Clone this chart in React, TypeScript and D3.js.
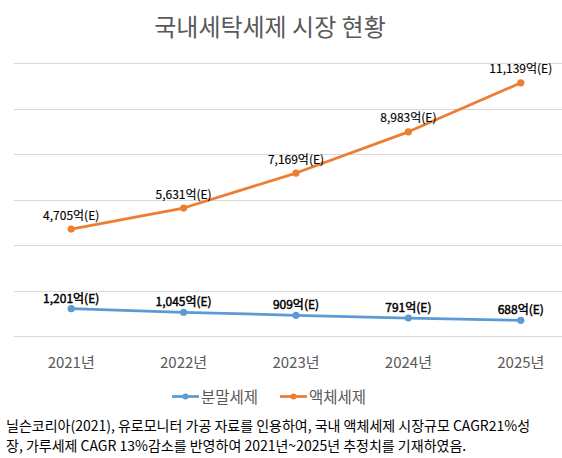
import React from "react";
import * as d3 from "d3";

// chart data
const years = ["2021년", "2022년", "2023년", "2024년", "2025년"];
const seriesNames = ["분말세제", "액체세제"];
const powderValues = [1201, 1045, 909, 791, 688];
const liquidValues = [4705, 5631, 7169, 8983, 11139];
const yMax = 12000;
const title = "국내세탁세제 시장 현황";
const noteLines = [
  "닐슨코리아(2021), 유로모니터 가공 자료를 인용하여, 국내 액체세제 시장규모 CAGR21%성",
  "장, 가루세제 CAGR 13%감소를 반영하여 2021년~2025년 추정치를 기재하였음.",
];

const FONT = "'Noto Sans CJK KR', 'Noto Sans', sans-serif";

class App extends React.Component {
  svgRef: any;
  constructor(props: any) {
    super(props);
    this.svgRef = React.createRef();
    this.draw = this.draw.bind(this);
  }

  componentDidMount() {
    this.draw();
  }

  draw() {
    var width = 562,
      height = 458;

    var svg = d3.select(this.svgRef.current);
    svg.selectAll("*").remove();
    svg.attr("width", width).attr("height", height);

    svg
      .append("rect")
      .attr("width", width)
      .attr("height", height)
      .attr("fill", "white");

    // the plot area runs past the right edge of the picture
    var x = d3.scaleBand().domain(years).range([15, 577]);
    var y = d3.scaleLinear().domain([0, yMax]).range([336, 63.3]);
    var cx = (d: string) => (x(d) as number) + x.bandwidth() / 2;

    // title
    svg
      .append("text")
      .attr("x", 270)
      .attr("y", 36)
      .attr("text-anchor", "middle")
      .style("font-family", FONT)
      .style("font-size", "24px")
      .attr("fill", "#595959")
      .text(title);

    // gridlines
    svg
      .selectAll("line.grid")
      .data(y.ticks(6))
      .enter()
      .append("line")
      .attr("class", "grid")
      .attr("x1", 14)
      .attr("x2", width)
      .attr("y1", (d: number) => Math.round(y(d)) + 0.5)
      .attr("y2", (d: number) => Math.round(y(d)) + 0.5)
      .attr("stroke", "#d9d9d9")
      .attr("stroke-width", 1);

    // year labels
    svg
      .selectAll("text.year")
      .data(years)
      .enter()
      .append("text")
      .attr("class", "year")
      .attr("x", (d: string) => cx(d))
      .attr("y", 368)
      .attr("text-anchor", "middle")
      .style("font-family", FONT)
      .style("font-size", "15px")
      .attr("fill", "#595959")
      .text((d: string) => d);

    // the powder labels are a bit heavier than the liquid ones
    var series = [
      { name: seriesNames[0], values: powderValues, color: "#5b9bd5", stroke: 0.45, offset: 6 },
      { name: seriesNames[1], values: liquidValues, color: "#ed7d31", stroke: 0.15, offset: 9.5 },
    ];

    var line = d3
      .line<number>()
      .x((_d: number, i: number) => cx(years[i]))
      .y((d: number) => y(d));

    series.forEach(function (s) {
      svg
        .append("path")
        .attr("d", line(s.values) as string)
        .attr("fill", "none")
        .attr("stroke", s.color)
        .attr("stroke-width", 2.75)
        .attr("stroke-linejoin", "round")
        .attr("stroke-linecap", "round");

      svg
        .selectAll(null)
        .data(s.values)
        .enter()
        .append("circle")
        .attr("cx", (_d: number, i: number) => cx(years[i]))
        .attr("cy", (d: number) => y(d))
        .attr("r", 3.6)
        .attr("fill", s.color);

      svg
        .selectAll(null)
        .data(s.values)
        .enter()
        .append("text")
        .attr("x", (_d: number, i: number) => cx(years[i]))
        .attr("y", (d: number) => y(d) - s.offset)
        .attr("text-anchor", "middle")
        .style("font-family", FONT)
        .style("font-size", "12px")
        .attr("fill", "#000")
        .attr("stroke", "#000")
        .attr("stroke-width", s.stroke)
        .text((d: number) => d3.format(",")(d) + "억(E)");
    });

    // legend
    var legendX = [172, 280];
    series.forEach(function (s, i) {
      var lx = legendX[i];
      svg
        .append("line")
        .attr("x1", lx)
        .attr("x2", lx + 27)
        .attr("y1", 396.5)
        .attr("y2", 396.5)
        .attr("stroke", s.color)
        .attr("stroke-width", 2.75);
      svg
        .append("circle")
        .attr("cx", lx + 13.5)
        .attr("cy", 396.5)
        .attr("r", 3)
        .attr("fill", s.color);
      svg
        .append("text")
        .attr("x", lx + 29)
        .attr("y", 403)
        .style("font-family", FONT)
        .style("font-size", "15.5px")
        .attr("fill", "#595959")
        .text(s.name);
    });

    // source note below the chart
    svg
      .selectAll("text.note")
      .data(noteLines)
      .enter()
      .append("text")
      .attr("class", "note")
      .attr("x", 6)
      .attr("y", (_d: string, i: number) => 431 + i * 19.5)
      .style("font-family", FONT)
      .style("font-size", "14px")
      .attr("fill", "#000")
      .text((d: string) => d);
  }

  render() {
    return (
      <svg
        ref={this.svgRef}
        style={{ position: "fixed", left: 0, top: 0, display: "block" }}
      ></svg>
    );
  }
}

export default App;
